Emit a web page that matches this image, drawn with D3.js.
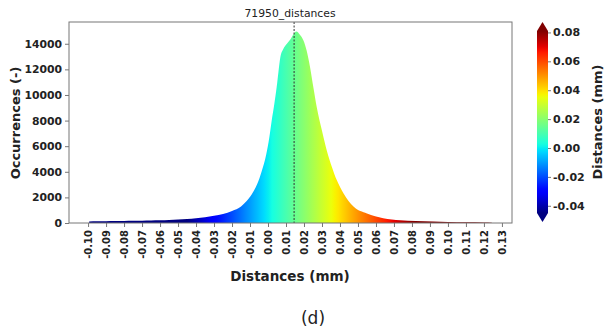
<!DOCTYPE html>
<html><head><meta charset="utf-8">
<script src="https://cdn.jsdelivr.net/npm/d3@7"></script>
<style>
html,body{margin:0;padding:0;background:#fff;}
text{font-family:"DejaVu Sans",sans-serif;}
</style></head>
<body>
<svg id="c" width="606" height="331"></svg>
<script>
// ---- data ----
const binCenters = [-0.0994,-0.095,-0.09,-0.085,-0.08,-0.075,-0.07,-0.065,-0.06,-0.055,-0.05,-0.045,-0.04,-0.035,-0.03,-0.025,-0.02,-0.015,-0.012,-0.009,-0.006,-0.0035,-0.001,0.0007,0.002,0.0035,0.0048,0.0058,0.0068,0.0085,0.0105,0.0125,0.014,0.0158,0.0175,0.0197,0.0215,0.0234,0.0252,0.0271,0.03,0.0327,0.0355,0.0382,0.042,0.0475,0.055,0.064,0.0735,0.082,0.092,0.10,0.11,0.12,0.1244];
const occurrences = [120,130,140,150,160,170,185,200,215,240,270,310,370,450,560,710,940,1290,1700,2250,3050,4050,5350,6650,7950,9300,10600,11800,12900,13600,14000,14350,14700,14950,14750,14250,13450,12150,10600,9050,7200,5650,4380,3350,2300,1280,740,370,210,150,110,85,60,40,20];
const xTicks = [-0.10,-0.09,-0.08,-0.07,-0.06,-0.05,-0.04,-0.03,-0.02,-0.01,0.00,0.01,0.02,0.03,0.04,0.05,0.06,0.07,0.08,0.09,0.10,0.11,0.12,0.13];
const yTicks = [0,2000,4000,6000,8000,10000,12000,14000];
const cbarTicks = [-0.04,-0.02,0.00,0.02,0.04,0.06,0.08];
const meanDistance = 0.0145;
const colorRange = [-0.045, 0.081];
const titleText = "71950_distances";

// ---- jet colormap ----
function interp(pts, t){
  for(let i=1;i<pts.length;i++){
    if(t<=pts[i][0]){const [x0,y0]=pts[i-1],[x1,y1]=pts[i];return y0+(y1-y0)*(t-x0)/(x1-x0);}
  }
  return pts[pts.length-1][1];
}
function jet(t){
  t=Math.max(0,Math.min(1,t));
  const r=interp([[0,0],[0.35,0],[0.66,1],[0.89,1],[1,0.5]],t);
  const g=interp([[0,0],[0.125,0],[0.375,1],[0.64,1],[0.91,0],[1,0]],t);
  const b=interp([[0,0.5],[0.11,1],[0.34,1],[0.65,0],[1,0]],t);
  return d3.rgb(r*255,g*255,b*255).formatHex();
}
const colorNorm = d3.scaleLinear().domain(colorRange).range([0,1]);
const fmt2 = v => d3.format(".2f")(v).replace("\u2212","-");

const svg = d3.select("#c");
const m = {l:69, r:512, t:22, b:223};
const x = d3.scaleLinear().domain([-0.1106,0.1356]).range([m.l,m.r]);
const y = d3.scaleLinear().domain([0,15700]).range([m.b,m.t]);

// gradient across x
const defs = svg.append("defs");
const g1 = defs.append("linearGradient").attr("id","hg").attr("gradientUnits","userSpaceOnUse")
  .attr("x1",m.l).attr("x2",m.r).attr("y1",0).attr("y2",0);
const nStops = 120;
for(let i=0;i<=nStops;i++){
  const px = m.l + (m.r-m.l)*i/nStops;
  g1.append("stop").attr("offset",(i/nStops)).attr("stop-color",jet(colorNorm(x.invert(px))));
}

const data = binCenters.map((v,i)=>({v, c:occurrences[i]}));
const area = d3.area().x(d=>x(d.v)).y0(y(0)).y1(d=>y(d.c)).curve(d3.curveMonotoneX);
svg.append("path").datum(data).attr("d",area).attr("fill","url(#hg)");

// mean line
svg.append("line").attr("x1",x(meanDistance)).attr("x2",x(meanDistance))
  .attr("y1",m.t).attr("y2",m.b).attr("stroke","#333").attr("stroke-width",1).attr("stroke-dasharray","2,1.5");

// frame
svg.append("rect").attr("x",m.l).attr("y",m.t).attr("width",m.r-m.l).attr("height",m.b-m.t)
  .attr("fill","none").attr("stroke","#777").attr("stroke-width",1);

// y axis
const ya = svg.append("g").attr("transform",`translate(${m.l},0)`)
  .call(d3.axisLeft(y).tickValues(yTicks).tickSize(4).tickPadding(3).tickFormat(d3.format("d")));
ya.select(".domain").remove();
ya.selectAll("line").attr("stroke","#777");
ya.selectAll("text").attr("font-size","10.8px").attr("font-weight","bold").attr("fill","#222");

// x axis
const xa = svg.append("g").attr("transform",`translate(0,${m.b})`)
  .call(d3.axisBottom(x).tickValues(xTicks).tickSize(4).tickFormat(fmt2));
xa.select(".domain").remove();
xa.selectAll("line").attr("stroke","#777");
xa.selectAll("text").attr("font-size","10px").attr("font-weight","bold").attr("fill","#222")
  .attr("text-anchor","end").attr("dy","0.35em").attr("transform","translate(0,7) rotate(-90)").attr("x",0).attr("y",0);

// labels
svg.append("text").attr("x",290).attr("y",281).attr("text-anchor","middle")
  .attr("font-size","13.5px").attr("font-weight","bold").attr("fill","#222").text("Distances (mm)");
svg.append("text").attr("transform","translate(20,123) rotate(-90)").attr("text-anchor","middle")
  .attr("font-size","13px").attr("font-weight","bold").attr("fill","#222").text("Occurrences (-)");
svg.append("text").attr("x",290).attr("y",17).attr("text-anchor","middle")
  .attr("font-size","10.8px").attr("fill","#222").text(titleText);
svg.append("text").attr("x",313).attr("y",324).attr("text-anchor","middle")
  .attr("font-size","17px").attr("fill","#222").text("(d)");

// colorbar
const cb = {x:537, w:11, top:31, bot:213, tri:9};
const cy = d3.scaleLinear().domain(colorRange).range([cb.bot,cb.top]);
const g2 = defs.append("linearGradient").attr("id","cg").attr("x1",0).attr("x2",0).attr("y1",1).attr("y2",0);
for(let i=0;i<=60;i++){
  g2.append("stop").attr("offset",i/60).attr("stop-color",jet(i/60));
}
svg.append("rect").attr("x",cb.x).attr("y",cb.top).attr("width",cb.w).attr("height",cb.bot-cb.top).attr("fill","url(#cg)");
svg.append("path").attr("d",`M${cb.x},${cb.top}L${cb.x+cb.w/2},${cb.top-cb.tri}L${cb.x+cb.w},${cb.top}Z`).attr("fill",jet(1));
svg.append("path").attr("d",`M${cb.x},${cb.bot}L${cb.x+cb.w/2},${cb.bot+cb.tri}L${cb.x+cb.w},${cb.bot}Z`).attr("fill",jet(0));
const ca = svg.append("g").attr("transform",`translate(${cb.x+cb.w},0)`)
  .call(d3.axisRight(cy).tickValues(cbarTicks).tickSize(3).tickPadding(2).tickFormat(fmt2));
ca.select(".domain").remove();
ca.selectAll("line").attr("stroke","#777");
ca.selectAll("text").attr("font-size","11px").attr("font-weight","bold").attr("fill","#222");
svg.append("text").attr("transform","translate(602,122) rotate(-90)").attr("text-anchor","middle")
  .attr("font-size","13px").attr("font-weight","bold").attr("fill","#222").text("Distances (mm)");
</script>
</body></html>
